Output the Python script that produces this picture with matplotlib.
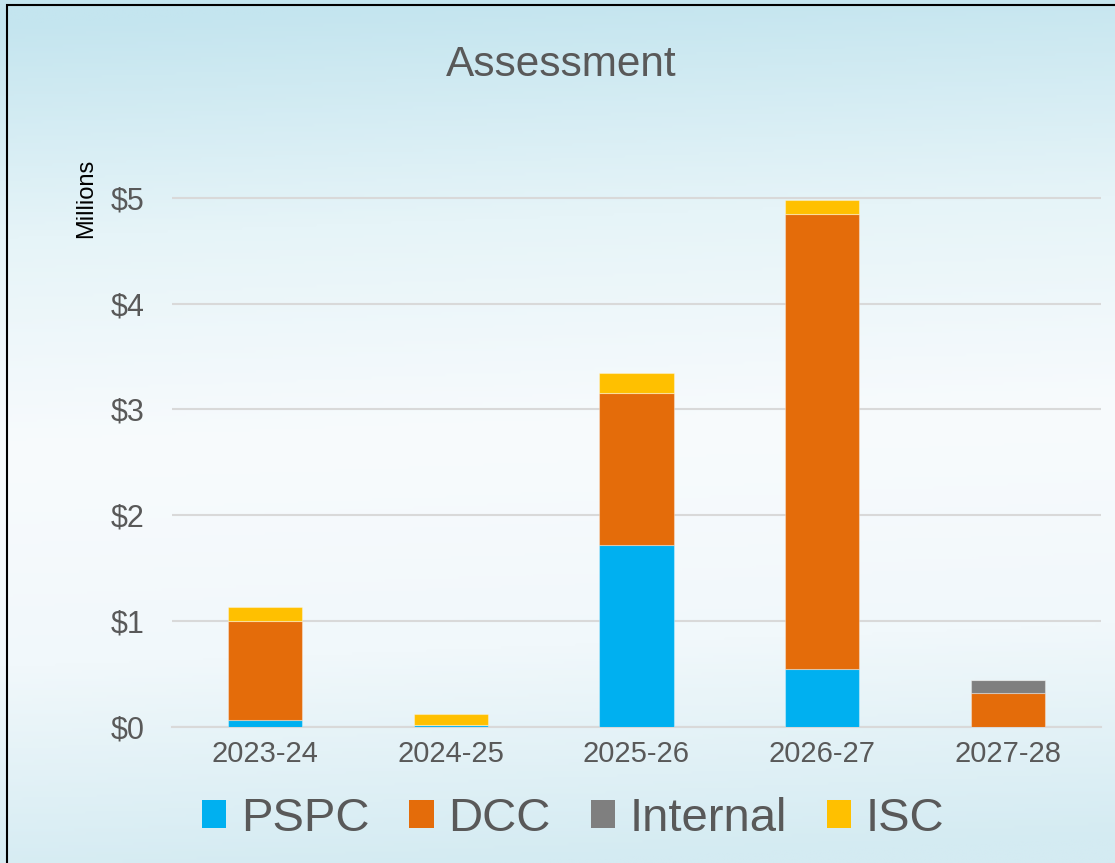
import numpy as np
import matplotlib
matplotlib.use("Agg")
import matplotlib.pyplot as plt
from matplotlib.patches import Patch, Rectangle
from matplotlib.colors import LinearSegmentedColormap

# ---- data ----
categories = ["2023-24", "2024-25", "2025-26", "2026-27", "2027-28"]
pspc = [0.06, 0.015, 1.72, 0.54, 0.0]
dcc = [0.94, 0.0, 1.43, 4.31, 0.32]
internal = [0.0, 0.0, 0.0, 0.0, 0.12]
isc = [0.13, 0.10, 0.19, 0.13, 0.0]
series_names = ["PSPC", "DCC", "Internal", "ISC"]
series_colors = ["#00B0F0", "#E46C0A", "#7F7F7F", "#FFC000"]
yticks = [0, 1, 2, 3, 4, 5]
ytick_labels = ["$0", "$1", "$2", "$3", "$4", "$5"]

plt.rcParams['font.family'] = ['Liberation Sans', 'DejaVu Sans']

W, H = 1115, 863
fig = plt.figure(figsize=(W / 100, H / 100), dpi=100)

# background gradient
bg = fig.add_axes([0, 0, 1, 1], zorder=0)
bg.set_axis_off()
cmap = LinearSegmentedColormap.from_list(
    "bg", [(0.0, "#c4e5ef"), (0.25, "#e6f4f8"), (0.5, "#f8fbfd"),
           (0.75, "#f1f8fb"), (1.0, "#d4ebf2")])
yy = np.linspace(0, 1, 300)[:, None]
xx = np.linspace(0, 1, 300)[None, :]
grad = np.clip(yy + 0.05 * (xx - 0.5), 0, 1)
bg.imshow(grad, cmap=cmap, aspect='auto', extent=[0, 1, 0, 1], origin='upper', vmin=0, vmax=1)
bg.set_xlim(0, 1)
bg.set_ylim(0, 1)
# border
fig.patches.append(Rectangle((7 / W, -0.01), 1.2, (H - 5) / H + 0.01, transform=fig.transFigure,
                             fill=False, edgecolor="black", linewidth=1.5, zorder=5))

ax = fig.add_axes([172 / W, (H - 726.5) / H, (1101 - 172) / W, (726.5 - 145) / H], zorder=2)
ax.patch.set_alpha(0)

x = np.arange(len(categories))
bottom = np.zeros(len(categories))
handles = []
for name, vals, col in zip(series_names, [pspc, dcc, internal, isc], series_colors):
    v = np.array(vals)
    ax.bar(x, v, width=0.40, bottom=bottom, color=col, edgecolor=(1, 1, 1, 0.35),
           linewidth=0.8, zorder=3)
    bottom += v
    handles.append(Patch(facecolor=col, edgecolor='none', label=name))

ax.set_xlim(-0.5, 4.5)
ax.set_ylim(0, 5.5)
ax.set_yticks(yticks)
ax.set_yticklabels(ytick_labels)
ax.set_xticks(x)
ax.set_xticklabels(categories)
ax.tick_params(axis='y', length=0, pad=20, labelsize=22, labelcolor="#595959")
ax.tick_params(axis='x', length=0, pad=10, labelsize=21, labelcolor="#595959")
ax.grid(axis='y', color="#d9d9d9", linewidth=1.5, zorder=1)
ax.set_axisbelow(True)
for s in ["top", "right", "left"]:
    ax.spines[s].set_visible(False)
ax.spines["bottom"].set_color("#d9d9d9")
ax.spines["bottom"].set_linewidth(1.5)

fig.text(561 / W, 1 - 65 / H, "Assessment", ha='center', va='center', fontsize=30.5, color="#595959")
fig.text(86 / W, 1 - 198 / H, "Millions", ha='center', va='center', rotation=90, fontsize=17, color="black")

leg = fig.legend(handles=handles, loc='center', bbox_to_anchor=(573 / W, 1 - 819 / H), ncol=4,
                 frameon=False, fontsize=34, handlelength=0.52, handleheight=0.52,
                 handletextpad=0.3, columnspacing=0.85, borderpad=0)
for t in leg.get_texts():
    t.set_color("#595959")

fig.savefig("out.png", dpi=100)
